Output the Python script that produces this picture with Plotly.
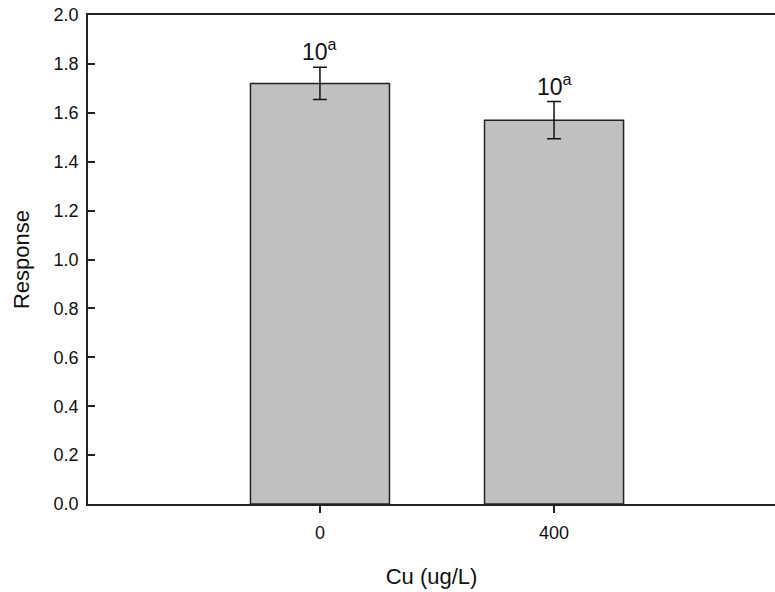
import plotly.graph_objects as go

categories = ["0", "400"]
response = [1.72, 1.57]
errors = [0.066, 0.076]
labels = ["10<sup>a</sup>", "10<sup>a</sup>"]

fig = go.Figure()
fig.add_trace(go.Bar(
    x=categories, y=response,
    width=0.594,
    marker=dict(color="#c0c0c0", line=dict(color="#222222", width=1.5)),
    error_y=dict(type="data", array=errors, visible=True, color="#111111", thickness=1.5, width=7),
    showlegend=False,
))

for i, (v, e, t) in enumerate(zip(response, errors, labels)):
    fig.add_annotation(x=i, y=v + e, text=t, showarrow=False, yanchor="bottom", yshift=0,
                       font=dict(family="Arial, Liberation Sans, sans-serif", size=23, color="#111111"))

fig.update_layout(
    width=775, height=592,
    margin=dict(l=88, r=0, t=15, b=88, autoexpand=False),
    plot_bgcolor="white", paper_bgcolor="white",
    font=dict(family="Arial, Liberation Sans, sans-serif", color="#111111"),
    xaxis=dict(
        type="category", range=[-0.991, 1.944], automargin=False,
        showline=True, linecolor="#222222", linewidth=1.5, mirror=True,
        ticks="outside", ticklen=7, tickcolor="#222222", tickwidth=1.5,
        tickfont=dict(size=18), ticklabelstandoff=5,
        title=dict(text="Cu (ug/L)", font=dict(size=22), standoff=26),
        showgrid=False, zeroline=False,
    ),
    yaxis=dict(
        range=[0, 2.0], dtick=0.2, tickformat=".1f", automargin=False,
        showline=True, linecolor="#222222", linewidth=1.5,
        ticks="inside", ticklen=7, tickcolor="#222222", tickwidth=1.5,
        tickfont=dict(size=18), ticklabelstandoff=4, ticklabeloverflow="allow",
        title=dict(text="Response", font=dict(size=22), standoff=18),
        showgrid=False, zeroline=False,
    ),
)

fig.write_html("out.html", config={"displayModeBar": False},
               post_script="document.body.style.margin='0';")
